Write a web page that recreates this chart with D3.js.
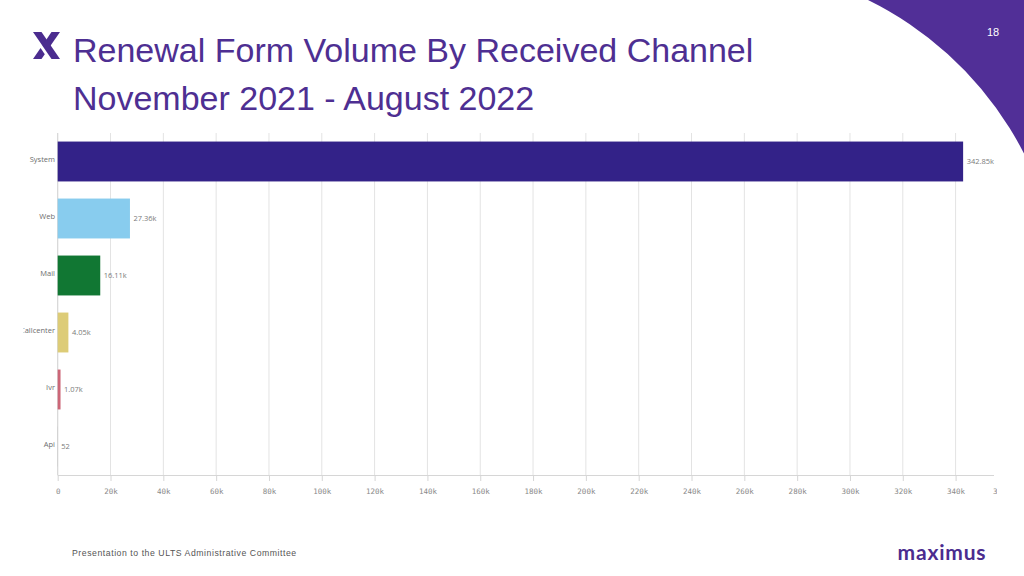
<!DOCTYPE html>
<html><head><meta charset="utf-8">
<script src="https://cdn.jsdelivr.net/npm/d3@7"></script>
<style>body{margin:0;background:#fff}svg{display:block}</style>
</head><body>
<svg id="c" width="1024" height="576"></svg>
<script>
const categories = ["System","Web","Mail","Callcenter","Ivr","Api"];
const values = [342850, 27360, 16110, 4050, 1070, 52];
const valueLabels = ["342.85k","27.36k","16.11k","4.05k","1.07k","52"];
const colors = ["#332288","#88ccee","#117733","#ddcc77","#cc6677","#aaaaaa"];
const tickValues = [0,20000,40000,60000,80000,100000,120000,140000,160000,180000,200000,220000,240000,260000,280000,300000,320000,340000,360000];
const tickLabels = ["0","20k","40k","60k","80k","100k","120k","140k","160k","180k","200k","220k","240k","260k","280k","300k","320k","340k","360k"];
const titleLines = ["Renewal Form Volume By Received Channel","November 2021 - August 2022"];
const footer = "Presentation to the ULTS Administrative Committee";

const svg = d3.select("#c");
const purple = "#4e2f92";
const defs = svg.append("defs");
defs.append("clipPath").attr("id","pg").append("rect").attr("width",1024).attr("height",576);

// top-right decorative shape
svg.append("path")
  .attr("d","M868,0 A347,347 0 0 1 1062,311 L1024,600 L1024,0 Z")
  .attr("fill","#512f97").attr("clip-path","url(#pg)");
svg.append("text").attr("x",993).attr("y",36).attr("text-anchor","middle")
  .attr("font-family","Liberation Sans, Arial, sans-serif").attr("font-size",11).attr("fill","#fff").text("18");

// logo X
const lg = svg.append("g").attr("transform","translate(33,32)").attr("fill","#4b2c8f");
lg.append("path").attr("d","M0,0 L8.5,0 L27,27 L18.5,27 Z");
lg.append("path").attr("d","M27,0 L18.5,0 L10,12.5 L14.2,18.6 Z");
lg.append("path").attr("d","M0,27 L8.5,27 L11.8,22.2 L7.6,16 Z");

// title
svg.selectAll("text.title").data(titleLines).join("text").attr("class","title")
  .attr("x",73).attr("y",(d,i)=>62+i*48)
  .attr("font-family","Liberation Sans, Arial, sans-serif").attr("font-size",34)
  .attr("fill",purple).text(d=>d);

// chart
const x0 = 57.7, x1 = 994;
const x = d3.scaleLinear().domain([0, (x1-x0)/(897.9/340000)]).range([x0,x1]);
const y = d3.scaleBand().domain(categories).range([133,475]).paddingInner(0.3).paddingOuter(0.15);

defs.append("clipPath").attr("id","axclip").append("rect").attr("x",0).attr("y",0).attr("width",997).attr("height",576);
defs.append("clipPath").attr("id","catclip").append("rect").attr("x",23.5).attr("y",0).attr("width",100).attr("height",576);

const grid = svg.append("g");
grid.selectAll("line").data(tickValues.filter(v=>x(v)<=x1)).join("line")
  .attr("x1",d=>x(d)).attr("x2",d=>x(d)).attr("y1",133).attr("y2",475)
  .attr("stroke","#e3e3e3").attr("stroke-width",1);

const xAxis = d3.axisBottom(x).tickValues(tickValues).tickFormat((d,i)=>tickLabels[i]).tickSize(6).tickSizeOuter(0);
const ax = svg.append("g").attr("transform","translate(0,475)").attr("clip-path","url(#axclip)").call(xAxis);
ax.select(".domain").attr("stroke","#d6d6d6").attr("d",`M${x0},0.5H${x1}`);
ax.selectAll(".tick line").attr("stroke","#d6d6d6").attr("y2",d=>x(d)<=x1?6:0);
ax.selectAll(".tick text").attr("y",14).attr("font-family","DejaVu Sans Mono, monospace").attr("font-size",7.5).attr("fill","#8a8a8a")
  .attr("dx",d=>x(d)>x1?-7:0);

svg.append("line").attr("x1",x0).attr("x2",x0).attr("y1",133).attr("y2",475).attr("stroke","#d6d6d6");

svg.selectAll("rect.bar").data(categories).join("rect").attr("class","bar")
  .attr("x",x(0)).attr("y",d=>y(d)).attr("width",(d,i)=>Math.max(0,x(values[i])-x(0)))
  .attr("height",y.bandwidth()).attr("fill",(d,i)=>colors[i]);

svg.selectAll("text.val").data(categories).join("text").attr("class","val")
  .attr("x",(d,i)=>x(values[i])+3.5).attr("y",d=>y(d)+y.bandwidth()/2).attr("dy","0.35em")
  .attr("font-family","Open Sans, sans-serif").attr("font-size",7.5).attr("fill","#7a7a7a")
  .text((d,i)=>valueLabels[i]);

svg.append("g").attr("clip-path","url(#catclip)").selectAll("text").data(categories).join("text")
  .attr("x",55).attr("y",d=>y(d)+y.bandwidth()/2-2).attr("dy","0.35em").attr("text-anchor","end")
  .attr("font-family","Open Sans, sans-serif").attr("font-size",7.5).attr("fill","#6e6e6e").text(d=>d);

// footer
svg.append("text").attr("x",72).attr("y",556).attr("font-family","Liberation Sans, Arial, sans-serif")
  .attr("font-size",8.7).attr("letter-spacing",0.55).attr("fill","#555").text(footer);
svg.append("text").attr("x",942).attr("y",560).attr("text-anchor","middle").attr("font-family","Lato, sans-serif")
  .attr("font-weight","bold").attr("font-size",21).attr("letter-spacing",0.8).attr("fill","#4b2c8f").text("maximus");
</script>
</body></html>
